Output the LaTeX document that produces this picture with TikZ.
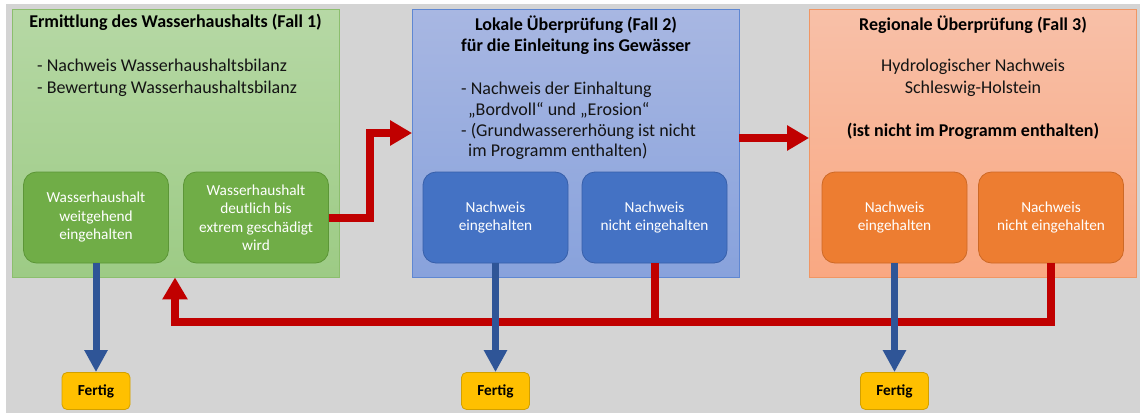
\documentclass[tikz,border=0pt]{standalone}
\usepackage{fontspec}
\setmainfont{Carlito}
\usetikzlibrary{arrows.meta}
\definecolor{bg}{RGB}{212,212,212}
\definecolor{gtop}{RGB}{182,216,165}
\definecolor{gbot}{RGB}{157,203,133}
\definecolor{gedge}{RGB}{140,190,110}
\definecolor{btop}{RGB}{168,183,226}
\definecolor{bbot}{RGB}{136,162,220}
\definecolor{bedge}{RGB}{95,135,210}
\definecolor{otop}{RGB}{248,192,168}
\definecolor{obot}{RGB}{249,168,130}
\definecolor{oedge}{RGB}{240,150,100}
\definecolor{ginner}{RGB}{112,173,71}
\definecolor{ginedge}{RGB}{92,150,55}
\definecolor{binner}{RGB}{68,114,196}
\definecolor{binedge}{RGB}{55,95,170}
\definecolor{oinner}{RGB}{237,125,49}
\definecolor{oinedge}{RGB}{205,105,38}
\definecolor{fert}{RGB}{255,192,0}
\definecolor{fertedge}{RGB}{210,160,0}
\definecolor{redc}{RGB}{192,0,0}
\definecolor{bluec}{RGB}{47,85,151}
\definecolor{txt}{RGB}{20,20,20}
\tikzset{
  panel/.style={draw, line width=0.8pt, minimum width=327pt, minimum height=268pt, inner sep=0pt},
  inbox/.style={draw, line width=0.8pt, rounded corners=13pt, minimum width=145pt, minimum height=91pt,
    inner sep=0pt, text=white, align=center, font=\fontsize{15.3}{18.5}\selectfont},
  fertig/.style={draw=fertedge, fill=fert, line width=0.8pt, rounded corners=5pt, minimum width=68pt,
    minimum height=37pt, inner sep=0pt, font=\fontsize{15.3}{18}\selectfont\bfseries, text=black},
  ttl/.style={align=center, inner sep=0pt, text=black, font=\fontsize{18}{21}\selectfont\bfseries},
  body/.style={inner sep=0pt, text=txt, font=\fontsize{18}{22}\selectfont},
  redline/.style={draw=redc, line width=8pt, line join=miter},
  redarrow/.style={redline, -{Triangle[width=24pt,length=22pt]}},
  bluearrow/.style={draw=bluec, line width=7pt, -{Triangle[width=22pt,length=22pt]}},
}
\begin{document}
\begin{tikzpicture}[x=1pt,y=-1pt]
\useasboundingbox (0,0) rectangle (1140,415);
\fill[white] (0,0) rectangle (1140,415);
\fill[bg] (6,4) rectangle (1140,413);
% panels
\node[panel, draw=gedge, top color=gtop, bottom color=gbot] (g) at (175.5,143) {};
\node[panel, draw=bedge, top color=btop, bottom color=bbot] (b) at (576,143) {};
\node[panel, draw=oedge, top color=otop, bottom color=obot] (o) at (973,143) {};
% titles and bodies
\node[ttl] (gt) at (175.5,22) {Ermittlung des Wasserhaushalts (Fall 1)};
\node[body, align=left, anchor=west] (gb) at (37,78) {- Nachweis Wasserhaushaltsbilanz\\- Bewertung Wasserhaushaltsbilanz};
\node[ttl] (bt) at (576,35.5) {Lokale Überprüfung (Fall 2)\\für die Einleitung ins Gewässer};
\node[body, align=left, anchor=west, font=\fontsize{18}{20.8}\selectfont] (bb) at (461,121)
  {- Nachweis der Einhaltung\\\hspace{7pt}„Bordvoll“ und „Erosion“\\- (Grundwassererhöung ist nicht\\\hspace{7pt}im Programm enthalten)};
\node[ttl] (ot) at (973,25) {Regionale Überprüfung (Fall 3)};
\node[body, align=center] (ob) at (973,78) {Hydrologischer Nachweis\\Schleswig-Holstein};
\node[ttl] (on) at (973,131) {(ist nicht im Programm enthalten)};
% inner boxes
\node[inbox, draw=ginedge, fill=ginner] (g1) at (96,217.5) {Wasserhaushalt\\weitgehend\\eingehalten};
\node[inbox, draw=ginedge, fill=ginner] (g2) at (256,217.5) {Wasserhaushalt\\deutlich bis\\extrem geschädigt\\wird};
\node[inbox, draw=binedge, fill=binner] (b1) at (495.5,217.5) {Nachweis\\eingehalten};
\node[inbox, draw=binedge, fill=binner] (b2) at (654.5,217.5) {Nachweis\\nicht eingehalten};
\node[inbox, draw=oinedge, fill=oinner] (o1) at (894.5,217.5) {Nachweis\\eingehalten};
\node[inbox, draw=oinedge, fill=oinner] (o2) at (1051,217.5) {Nachweis\\nicht eingehalten};
% fertig
\node[fertig] (f1) at (96,391) {Fertig};
\node[fertig] (f2) at (495.5,391) {Fertig};
\node[fertig] (f3) at (894.5,391) {Fertig};
% connectors
\coordinate (k1) at (370,217.5);
\coordinate (k2) at (370,133);
\coordinate (m) at (739,138);
\coordinate (h) at (175,322);
\draw[redarrow] (g2.east) -- (k1) -- (k2) -- (k2 -| b.west);
\draw[redarrow] (m) -- (m -| o.west);
\draw[redline] (b2.south) -- (b2.south |- h);
\draw[redarrow] (o2.south) |- (h) -- (h |- g.south);
\draw[bluearrow] (g1.south) -- (f1.north);
\draw[bluearrow] (b1.south) -- (f2.north);
\draw[bluearrow] (o1.south) -- (f3.north);
\end{tikzpicture}
\end{document}
